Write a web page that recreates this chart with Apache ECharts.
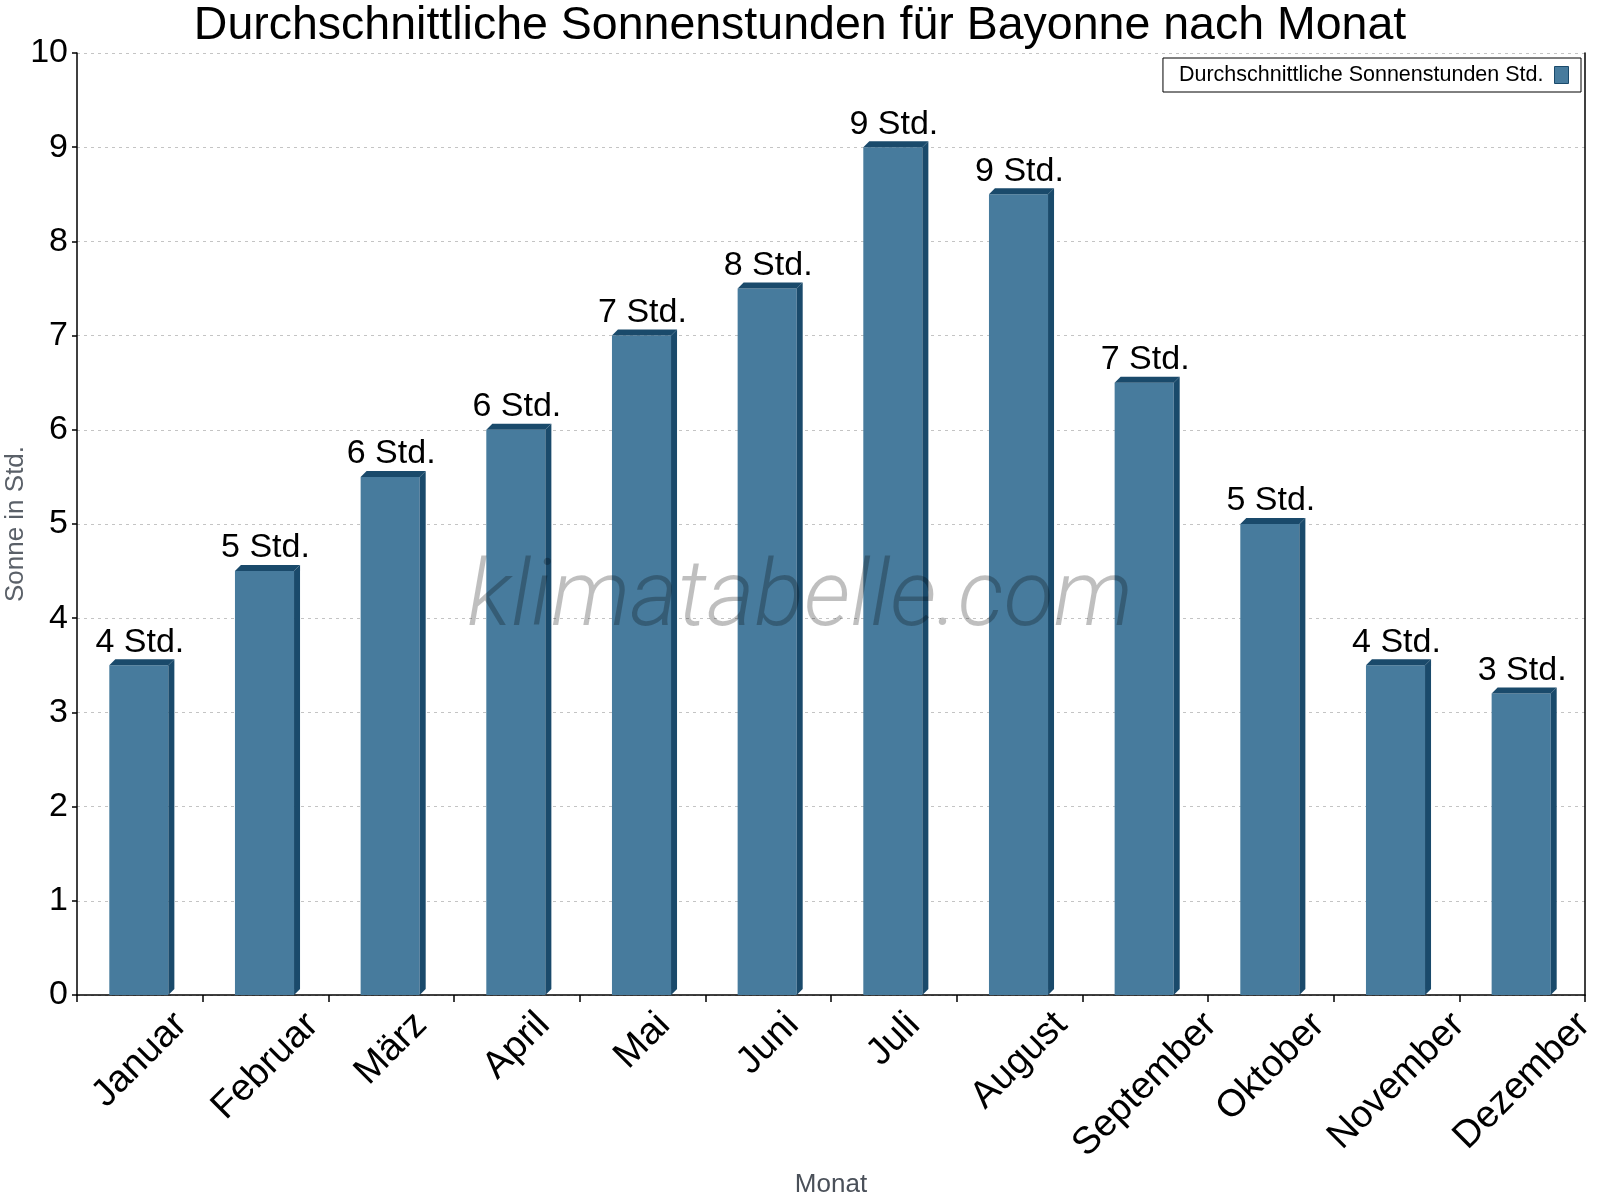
<!DOCTYPE html>
<html>
<head>
<meta charset="utf-8">
<script src="https://cdn.jsdelivr.net/npm/echarts@6/dist/echarts.min.js"></script>
<style>html,body{margin:0;padding:0;background:#fff}#c{width:1600px;height:1200px}</style>
</head>
<body>
<div id="c"></div>
<script>
const titleText = 'Durchschnittliche Sonnenstunden für Bayonne nach Monat';
const seriesName = 'Durchschnittliche Sonnenstunden Std.';
const months = ['Januar','Februar','März','April','Mai','Juni','Juli','August','September','Oktober','November','Dezember'];
const sunHours = [3.5, 4.5, 5.5, 6, 7, 7.5, 9, 8.5, 6.5, 5, 3.5, 3.2];
const yMin = 0, yMax = 10, yStep = 1;
const unit = ' Std.';

const FONT = '"Liberation Sans", Arial, sans-serif';
const MAIN = '#477b9d';
const DARK = '#1a4a6b';
const XFS = 38;

// per-label padding so rotated labels are centered under their category
const mctx = document.createElement('canvas').getContext('2d');
mctx.font = XFS + 'px "Liberation Sans"';
const rich = {};
months.forEach((m, i) => {
  const w = mctx.measureText(m).width;
  const p = Math.round(0.5 * w);
  rich['m' + i] = { fontSize: XFS, fontFamily: FONT, color: '#000', padding: [p, p, 0, 0] };
});

const chart = echarts.init(document.getElementById('c'));
chart.setOption({
  backgroundColor: '#fff',
  animation: false,
  title: {
    text: titleText, left: 'center', top: 3, padding: 0,
    textStyle: { fontFamily: FONT, fontSize: 46.5, fontWeight: 'normal', color: '#000' }
  },
  legend: {
    data: [seriesName], right: 19, top: 58, align: 'right',
    orient: 'horizontal', padding: [6, 12, 6, 16],
    borderColor: '#000', borderWidth: 1, backgroundColor: '#fff',
    icon: 'rect', itemWidth: 14, itemHeight: 17, itemGap: 10,
    textStyle: { fontFamily: FONT, fontSize: 21.5, color: '#000', padding: [0, 6, 0, 0] },
    itemStyle: { color: MAIN, borderColor: DARK, borderWidth: 1 }
  },
  grid: { left: 77, right: 15, top: 53, bottom: 205, containLabel: false, outerBoundsMode: 'none' },
  xAxis: {
    type: 'category', data: months, boundaryGap: true,
    name: 'Monat', nameLocation: 'middle', nameGap: 177, nameMoveOverlap: false,
    nameTextStyle: { fontFamily: FONT, fontSize: 26, color: '#4a5059' },
    axisLine: { show: true, lineStyle: { color: '#000', width: 1.5 } },
    axisTick: { show: true, length: 7, lineStyle: { color: '#000', width: 1.5 } },
    axisLabel: {
      interval: 0, rotate: 45, align: 'center', verticalAlign: 'middle', margin: 24,
      hideOverlap: false,
      formatter: (v, i) => '{m' + i + '|' + v + '}',
      rich: rich
    },
    splitLine: { show: false }
  },
  yAxis: [{
    type: 'value', min: yMin, max: yMax, interval: yStep,
    name: 'Sonne in Std.', nameLocation: 'middle', nameGap: 48, nameMoveOverlap: false,
    nameTextStyle: { fontFamily: FONT, fontSize: 26, color: '#5a6068' },
    axisLine: { show: true, lineStyle: { color: '#000', width: 1.5 } },
    axisTick: { show: true, length: 5, lineStyle: { color: '#000', width: 1.5 } },
    axisLabel: { fontFamily: FONT, fontSize: 34, color: '#000', margin: 9 },
    splitLine: { show: true, lineStyle: { color: '#c4c4c4', type: [3, 4], width: 1 } }
  }, {
    type: 'value', min: yMin, max: yMax, interval: yStep, position: 'right',
    axisLine: { show: true, lineStyle: { color: '#000', width: 1.5 } },
    axisTick: { show: false }, axisLabel: { show: false }, splitLine: { show: false }
  }],
  graphic: [{
    type: 'text', left: 'center', top: 556, z: 100, silent: true,
    style: {
      text: 'klimatabelle.com', fontFamily: 'Roboto, "Liberation Sans", sans-serif',
      fontSize: 92, fontStyle: 'italic', fontWeight: 300,
      fill: 'rgba(0,0,0,0.25)'
    }
  }],
  series: [{
    name: seriesName, type: 'custom',
    itemStyle: { color: MAIN },
    data: sunHours.map((v, i) => [i, v]),
    renderItem: function (params, api) {
      const i = api.value(0), v = api.value(1);
      const top = api.coord([i, v]);
      const base = api.coord([i, 0]);
      const band = api.size([1, 0])[0];
      const bw = band * 0.47;
      const d = 6;
      const L = top[0] - bw / 2 - 1, R = L + bw;
      const yT = top[1], yB = base[1];
      return {
        type: 'group',
        children: [
          { type: 'rect', shape: { x: L, y: yT, width: bw, height: yB - yT }, style: { fill: MAIN } },
          { type: 'polygon', shape: { points: [[L, yT], [L + d, yT - d], [R + d, yT - d], [R, yT]] }, style: { fill: DARK } },
          { type: 'polygon', shape: { points: [[R, yT], [R + d, yT - d], [R + d, yB - d], [R, yB]] }, style: { fill: DARK } },
          { type: 'text', x: top[0], y: yT - 6,
            style: { text: Math.round(v) + unit, fontFamily: FONT, fontSize: 34, fill: '#000',
                     align: 'center', verticalAlign: 'bottom' } }
        ]
      };
    }
  }]
});
</script>
</body>
</html>
